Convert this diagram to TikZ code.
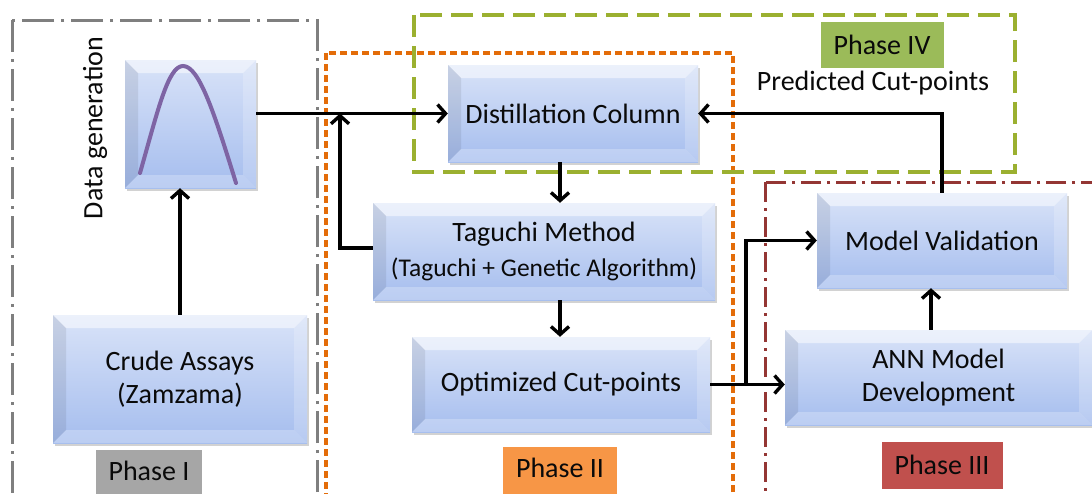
\documentclass[tikz,border=0pt]{standalone}
\usepackage{fontspec}
\setmainfont{Carlito}
\usetikzlibrary{arrows.meta,shadows,calc}

\definecolor{boxtop}{HTML}{D9E3F8}
\definecolor{boxbot}{HTML}{A5BDEE}
\definecolor{phgrey}{HTML}{7F7F7F}
\definecolor{phorange}{HTML}{E36C09}
\definecolor{pholive}{HTML}{9BB030}
\definecolor{phred}{HTML}{943634}
\definecolor{lblgrey}{HTML}{A6A6A6}
\definecolor{lblorange}{HTML}{F79646}
\definecolor{lblred}{HTML}{C0504D}
\definecolor{lblolive}{HTML}{9BBB59}
\definecolor{curve}{HTML}{7E64A4}
\definecolor{ink}{HTML}{0A0A0A}

\tikzset{
  txt/.style={font=\fontsize{28}{33}\selectfont, text=ink},
  flowbox/.style={
    txt, align=center, inner sep=0pt,
    top color=boxtop, bottom color=boxbot,
    drop shadow={opacity=0.35, shadow xshift=1.5pt, shadow yshift=-3pt},
    path picture={
      \fill[white,opacity=0.5]
        (path picture bounding box.north west) -- (path picture bounding box.north east)
        -- ([shift={(-13pt,-13pt)}]path picture bounding box.north east)
        -- ([shift={(13pt,-13pt)}]path picture bounding box.north west) -- cycle;
      \fill[black,opacity=0.08]
        (path picture bounding box.north west) -- (path picture bounding box.south west)
        -- ([shift={(13pt,13pt)}]path picture bounding box.south west)
        -- ([shift={(13pt,-13pt)}]path picture bounding box.north west) -- cycle;
      \fill[white,opacity=0.2]
        (path picture bounding box.north east) -- (path picture bounding box.south east)
        -- ([shift={(-13pt,13pt)}]path picture bounding box.south east)
        -- ([shift={(-13pt,-13pt)}]path picture bounding box.north east) -- cycle;
      \fill[white,opacity=0.25]
        (path picture bounding box.south west) -- (path picture bounding box.south east)
        -- ([shift={(-13pt,13pt)}]path picture bounding box.south east)
        -- ([shift={(13pt,13pt)}]path picture bounding box.south west) -- cycle;
    }},
  conn/.style={line width=3.4pt, line join=miter, draw=black,
    -{Straight Barb[length=8pt,width=18pt]}},
  phaseI/.style={draw=phgrey, line width=3pt,
    dash pattern=on 32pt off 7pt on 3pt off 7pt},
  phaseII/.style={draw=phorange, line width=3.2pt, dash pattern=on 7pt off 4pt},
  phaseIII/.style={draw=phred, line width=3pt,
    dash pattern=on 20pt off 6pt on 3pt off 6pt},
  phaseIV/.style={draw=pholive, line width=3.4pt, dash pattern=on 22pt off 9pt},
  tag/.style={txt, inner sep=0pt, anchor=center}
}

\begin{document}
\begin{tikzpicture}[x=1pt, y=-1pt]
  \useasboundingbox (0,0) rectangle (1092,493);
  \clip (0,0) rectangle (1092,493);
  \fill[white] (0,0) rectangle (1092,493);

  % phase frames
  \draw[phaseI]   (12,20)  rectangle (317,520);
  \draw[phaseII]  (326,53) rectangle (733,520);
  \draw[phaseIV]  (414,15) rectangle (1015,172);
  \draw[phaseIII] (765,182) rectangle (1120,520);

  % phase labels
  \fill[lblgrey]   (96,450)  rectangle (202,500);
  \node[tag] (lblI)   at (149,471) {Phase I};
  \fill[lblorange] (503,447) rectangle (617,500);
  \node[tag] (lblII)  at (560,468) {Phase II};
  \fill[lblred]    (882,442) rectangle (1003,489);
  \node[tag] (lblIII) at (942,465) {Phase III};
  \fill[lblolive]  (821,22)  rectangle (944,68);
  \node[tag] (lblIV)  at (882,45) {Phase IV};
  \node[tag] (pred)   at (873,83) {Predicted Cut-points};

  % process blocks
  \node[flowbox, minimum width=131pt, minimum height=128pt] (gen)     at (190.5,124)   {};
  \node[flowbox, minimum width=254pt, minimum height=128pt] (crude)   at (180,379)     {Crude Assays\\(Zamzama)};
  \node[flowbox, minimum width=250pt, minimum height=97pt]  (distill) at (573,113.5)   {Distillation Column};
  \node[flowbox, minimum width=342pt, minimum height=97pt]  (taguchi) at (544,251.5)
    {Taguchi Method\\[2pt]{\fontsize{25.5}{30}\selectfont(Taguchi + Genetic Algorithm)}};
  \node[flowbox, minimum width=298pt, minimum height=95pt]  (optim)   at (561,384.5)   {Optimized Cut-points};
  \node[flowbox, minimum width=250pt, minimum height=95pt]  (valid)   at (942,240.5)   {Model Validation};
  \node[flowbox, minimum width=307pt, minimum height=95pt]  (ann)     at (938.5,377.5) {ANN Model\\Development};

  % distribution curve inside the data-generation block
  \draw[curve, line width=4pt, line cap=round]
    (140,173) .. controls (158,110) and (168,66) .. (183,66)
    .. controls (199,66) and (214,112) .. (236,183);

  \node[tag, rotate=90] (genlabel) at (95,128) {Data generation};

  % connectors
  \coordinate (fb)  at (340,113.5);
  \coordinate (br)  at (746,384.5);
  \coordinate (top) at (942,113.5);

  \draw[conn] (crude.north -| 180,0) -- (gen.south -| 180,0);
  \draw[conn] (gen.east |- distill.west) -- (distill.west);
  \draw[conn] (taguchi.west |- 0,248) -| (fb);
  \draw[conn] (distill.south -| 560,0) -- (taguchi.north -| 560,0);
  \draw[conn] (taguchi.south -| 560,0) -- (optim.north -| 560,0);
  \draw[conn] (optim.east) -- (optim.east -| ann.west);
  \draw[conn] (br) |- (valid.west);
  \draw[conn] (ann.north -| 931,0) -- (valid.south -| 931,0);
  \draw[conn] (valid.north) -- (top) -- (distill.east);
\end{tikzpicture}
\end{document}
